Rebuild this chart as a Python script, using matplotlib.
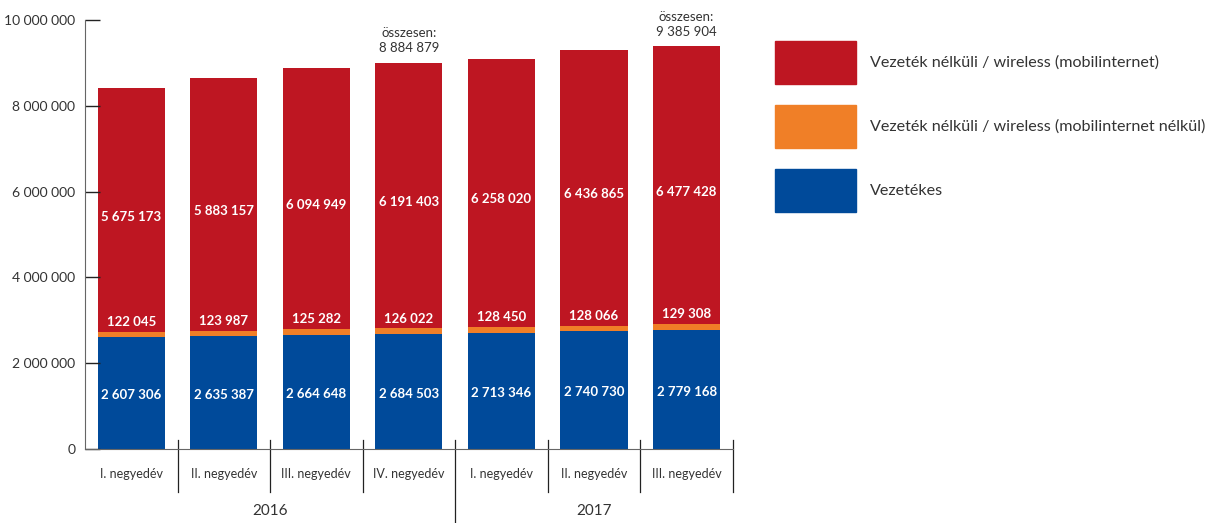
import numpy as np
import matplotlib.pyplot as plt
import matplotlib.transforms as mtransforms
from matplotlib.patches import Patch

plt.rcParams['font.family'] = ['Lato', 'DejaVu Sans']

# data
quarters = ["I. negyedév", "II. negyedév", "III. negyedév", "IV. negyedév",
            "I. negyedév", "II. negyedév", "III. negyedév"]
years = ["2016", "2017"]
year_span = [(0, 3), (4, 6)]
vezetekes = [2607306, 2635387, 2664648, 2684503, 2713346, 2740730, 2779168]
wireless_nomobil = [122045, 123987, 125282, 126022, 128450, 128066, 129308]
mobilinternet = [5675173, 5883157, 6094949, 6191403, 6258020, 6436865, 6477428]
totals = {3: "8 884 879", 6: "9 385 904"}

labels = ["Vezeték nélküli / wireless (mobilinternet)",
          "Vezeték nélküli / wireless (mobilinternet nélkül)",
          "Vezetékes"]
c_red, c_orange, c_blue = "#BE1622", "#F07F27", "#004A9A"
c_text = "#333333"


def fmt(v):
    return f"{v:,}".replace(",", " ")


fig = plt.figure(figsize=(12.1, 5.23), dpi=100)
ax = fig.add_axes([0.0702, 0.1415, 0.5355, 0.8203])

x = np.arange(len(quarters))
w = 0.725
blue = np.array(vezetekes)
orange = np.array(wireless_nomobil)
red = np.array(mobilinternet)

ax.bar(x, blue, w, color=c_blue)
ax.bar(x, orange, w, bottom=blue, color=c_orange)
ax.bar(x, red, w, bottom=blue + orange, color=c_red)

lab_kw = dict(ha="center", va="center", color="white", fontsize=9.5, fontweight="bold")
for i in x:
    ax.text(i, blue[i] / 2 - 50000, fmt(blue[i]), **lab_kw)
    ax.text(i, blue[i] + orange[i] + 230000, fmt(orange[i]), **lab_kw)
    ax.text(i, blue[i] + orange[i] + red[i] / 2 - 150000, fmt(red[i]), **lab_kw)

for i, t in totals.items():
    top = blue[i] + orange[i] + red[i]
    ax.annotate("összesen:\n" + t, (i, top), xytext=(0, 6), textcoords="offset points",
                ha="center", va="bottom", fontsize=9.5, color=c_text, linespacing=1.3)

ax.set_xlim(-0.5, 6.5)
ax.set_ylim(0, 10000000)
ax.set_yticks(np.arange(0, 10000001, 2000000))
ax.set_yticklabels([fmt(v) for v in range(0, 10000001, 2000000)])
ax.tick_params(axis="y", direction="in", length=11, width=1, color="#222222",
               labelsize=10, labelcolor=c_text, pad=7)
ax.set_xticks(x)
ax.set_xticklabels(quarters)
ax.tick_params(axis="x", length=0, labelsize=9, labelcolor=c_text, pad=14)

for s in ["top", "right"]:
    ax.spines[s].set_visible(False)
ax.spines["left"].set_color("#666666")
ax.spines["bottom"].set_color("#666666")

trans = mtransforms.blended_transform_factory(ax.transData, ax.transAxes)
for k in range(len(quarters)):
    xs = k + 0.5
    low = -0.1725 if k == 3 else -0.1
    ax.plot([xs, xs], [0.021, low], transform=trans, color="#222222", lw=0.9, clip_on=False)

for name, (a, b) in zip(years, year_span):
    ax.text((a + b) / 2, -0.145, name, transform=trans, ha="center", va="center",
            fontsize=11, color=c_text)

handles = [Patch(color=c_red), Patch(color=c_orange), Patch(color=c_blue)]
fig.legend(handles, labels, loc="upper left", bbox_to_anchor=(775 / 1210, 1 - 41 / 523),
           frameon=False, fontsize=11.6, handlelength=5.03, handleheight=3.73,
           labelspacing=1.3, handletextpad=0.85, borderpad=0, borderaxespad=0,
           labelcolor=c_text)

fig.savefig("out.png", dpi=100)
